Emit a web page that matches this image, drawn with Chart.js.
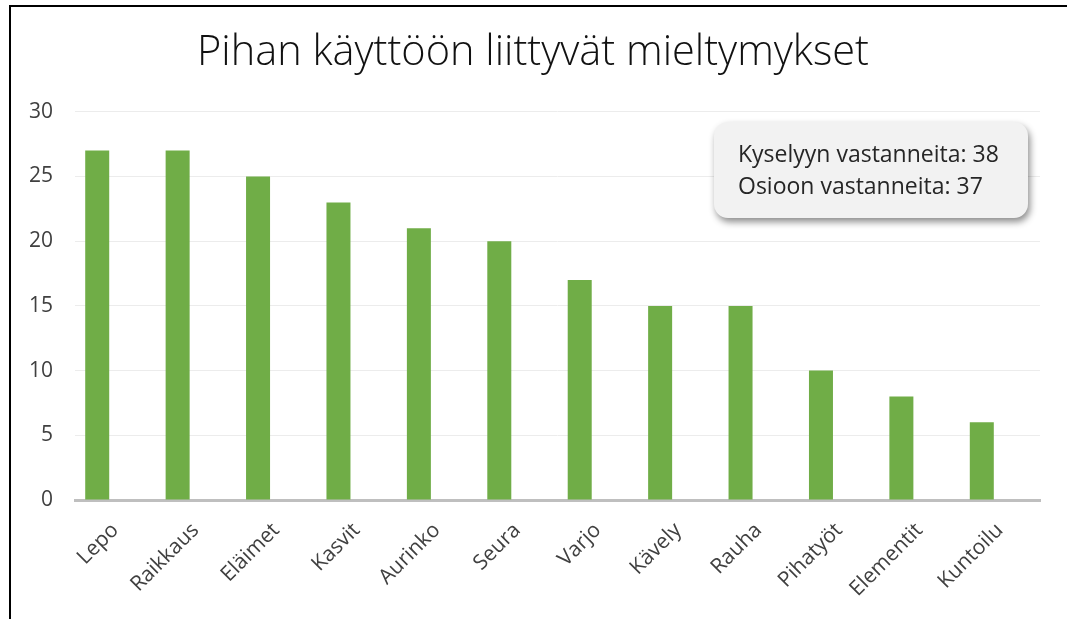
<!DOCTYPE html>
<html>
<head>
<meta charset="utf-8">
<script src="https://cdn.jsdelivr.net/npm/chart.js@4/dist/chart.umd.min.js"></script>
<style>
  body { margin: 0; background: #fff; }
  #wrap { position: relative; width: 1067px; height: 619px; overflow: hidden; }
  #frame { position: absolute; left: 9px; top: 5px; width: 1100px; height: 700px;
    border-left: 2px solid #000; border-top: 2px solid #000; pointer-events: none; }
</style>
</head>
<body>
<div id="wrap">
  <canvas id="prefs" width="1067" height="619"></canvas>
  <div id="frame"></div>
</div>
<script>
const categories = ['Lepo', 'Raikkaus', 'Eläimet', 'Kasvit', 'Aurinko', 'Seura',
  'Varjo', 'Kävely', 'Rauha', 'Pihatyöt', 'Elementit', 'Kuntoilu']
const answers = [27, 27, 25, 23, 21, 20, 17, 15, 15, 10, 8, 6]
// empty second series (as in the original sheet), keeps bars left of centre
const emptySeries = categories.map(() => null)
const yTicks = [0, 5, 10, 15, 20, 25, 30]
const infoLines = ['Kyselyyn vastanneita: 38', 'Osioon vastanneita: 37']

const infoBox = {
  id: 'infoBox',
  afterDraw(chart) {
    const ctx = chart.ctx
    const x = 714, y = 122, w = 314, h = 96, r = 14
    ctx.save()
    ctx.shadowColor = 'rgba(0,0,0,0.45)'
    ctx.shadowBlur = 7
    ctx.shadowOffsetX = 2
    ctx.shadowOffsetY = 4
    ctx.fillStyle = '#f2f2f2'
    ctx.beginPath()
    ctx.roundRect(x, y, w, h, r)
    ctx.fill()
    ctx.restore()
    ctx.save()
    ctx.fillStyle = '#262626'
    ctx.font = '23px "Open Sans"'
    ctx.textBaseline = 'middle'
    infoLines.forEach((t, i) => ctx.fillText(t, 738, 155 + i * 32))
    ctx.restore()
  }
}

const ctx = document.querySelector('#prefs')
const prefChart = new Chart(ctx, {
  type: 'bar',
  data: {
    labels: categories,
    datasets: [
      { label: 'Vastaukset', data: answers, backgroundColor: '#70ad47' },
      { label: '', data: emptySeries, backgroundColor: '#70ad47' }
    ]
  },
  options: {
    responsive: false,
    animation: false,
    categoryPercentage: 0.895,
    barPercentage: 0.667,
    layout: { padding: { left: 26, right: 27, top: 0, bottom: 0 } },
    plugins: {
      legend: { display: false },
      tooltip: { enabled: false },
      title: {
        display: true,
        text: 'Pihan käyttöön liittyvät mieltymykset',
        color: '#111',
        font: { family: '"Open Sans"', size: 41.5, weight: 300, lineHeight: 1.2 },
        padding: { top: 28, bottom: 34 }
      }
    },
    scales: {
      x: {
        grid: { display: false, drawTicks: false },
        border: { color: '#bfbfbf', width: 3 },
        ticks: {
          color: '#404040',
          font: { family: '"Open Sans"', size: 21 },
          minRotation: 45,
          maxRotation: 45,
          padding: 18
        },
        afterFit: s => { s.height = 119 }
      },
      y: {
        min: 0,
        max: 30,
        afterBuildTicks: s => { s.ticks = yTicks.map(v => ({ value: v })) },
        grid: { color: '#ececec', drawTicks: false },
        border: { display: false },
        ticks: {
          color: '#404040',
          font: { family: '"Open Sans"', size: 21 },
          padding: 22
        },
        afterFit: s => { s.width = 49 }
      }
    }
  },
  plugins: [infoBox]
})
</script>
</body>
</html>
